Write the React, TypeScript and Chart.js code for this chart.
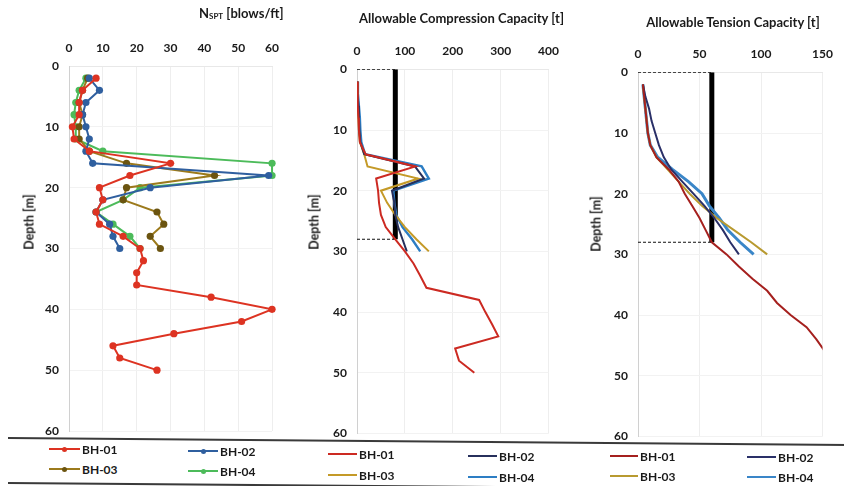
import React, { useEffect, useRef } from "react";
import { Chart, registerables } from "chart.js";

Chart.register(...registerables);

const FONT = "Lato, 'Open Sans', sans-serif";
const TEXT = "#1a1a1a";

// ---------- data ----------
const seriesNames = ["BH-01", "BH-02", "BH-03", "BH-04"];
const depthsLong = [2, 4, 6, 8, 10, 12, 14, 16, 18, 20, 22, 24, 26, 28, 30, 32, 34, 36, 38, 40, 42, 44, 46, 48, 50];
const depthsShort = [2, 4, 6, 8, 10, 12, 14, 16, 18, 20, 22, 24, 26, 28, 30];

// N_SPT [blows/ft]
const nsptBH01 = [8, 4, 3, 3, 1, 1.5, 6, 30, 18, 9, 10, 8, 9, 16, 21, 22, 20, 20, 42, 60, 51, 31, 13, 15, 26];
const nsptBH02 = [6, 9, 5, 4, 5, 6, 5, 7, 59, 24, 10, 8, 12, 13, 15];
const nsptBH03 = [5.5, 4, 3, 4, 3, 3, 6, 17, 43, 17, 16, 26, 28, 24, 27];
const nsptBH04 = [5, 3, 2, 1.5, 2, 2, 10, 60, 60, 21, 16, 8, 13, 18, 21];

// Allowable compression capacity [t]
const compBH01 = [0, 1, 2, 3, 4, 6, 18, 122, 40, 44, 46, 50, 60, 80, 100, 118, 132, 145, 255, 268, 282, 295, 205, 213, 245];
const compBH02 = [0, 1, 3, 4, 5, 7, 15, 121, 140, 73, 78, 80, 86, 95, 104];
const compBH03 = [0, 1, 2, 3, 4, 6, 15, 22, 128, 50, 63, 80, 100, 124, 150];
const compBH04 = [0, 2, 4, 6, 7, 9, 17, 135, 150, 76, 78, 82, 95, 115, 132];

// Allowable tension capacity [t]
const tensBH01 = [4, 5, 6, 7, 8, 10, 15, 25, 33, 38, 44, 50, 55, 60, 72, 82, 93, 105, 113, 124, 137, 145, 152, 163, 175];
const tensBH02 = [4, 6, 9, 11, 14, 17, 21, 27, 36, 45, 54, 62, 69, 75, 82];
const tensBH03 = [4, 5, 6, 7, 8, 10, 15, 24, 33, 42, 52, 64, 78, 92, 105];
const tensBH04 = [4, 5, 6, 7, 8, 10, 16, 28, 41, 52, 58, 66, 73, 83, 94];

// design lines
const designComp = 80;
const designTens = 60;
const designDepth = 28;

// axis ranges
const depthMax = 60;
const depthStep = 10;
const sptMax = 60;
const sptStep = 10;
const compMax = 400;
const compStep = 100;
const tensMax = 150;
const tensStep = 50;

// ---------- components ----------
type Series = {
  label: string;
  color: string;
  pointColor?: string;
  values: number[];
  depths: number[];
  width?: number;
};

type PanelProps = {
  left: number;
  width: number;
  height: number;
  plotLeft: number;
  plotRight: number;
  plotTop: number;
  plotBottom: number;
  xMax: number;
  xStep: number;
  series: Series[];
  markers?: boolean;
  design?: { cap: number; depth: number };
  clip?: any;
};

function PanelChart(p: PanelProps) {
  const ref = useRef<HTMLCanvasElement>(null);
  useEffect(() => {
    const c = ref.current!;
    const datasets: any[] = p.series.map((s) => ({
      label: s.label,
      data: s.values.map((v, i) => ({ x: v, y: s.depths[i] })),
      showLine: true,
      borderColor: s.color,
      backgroundColor: s.pointColor ?? s.color,
      borderWidth: s.width ?? 2,
      pointRadius: p.markers ? 3.6 : 0,
      pointBorderWidth: 0,
      pointBackgroundColor: s.pointColor ?? s.color,
      clip: p.clip,
    }));
    if (p.design) {
      const { cap, depth } = p.design;
      const dash = {
        showLine: true,
        borderColor: "#111",
        borderWidth: 1.2,
        borderDash: [3, 2],
        pointRadius: 0,
      };
      datasets.push(
        { ...dash, label: "top", data: [{ x: 0, y: 0 }, { x: cap, y: 0 }] },
        { ...dash, label: "bottom", data: [{ x: 0, y: depth }, { x: cap, y: depth }] },
        {
          label: "design",
          data: [{ x: cap, y: 0 }, { x: cap, y: depth }],
          showLine: true,
          borderColor: "#000",
          borderWidth: 5,
          borderCapStyle: "butt",
          pointRadius: 0,
        }
      );
    }
    const tickFont = { family: FONT, size: 12, weight: "bold" as const };
    const chart = new Chart(c, {
      type: "scatter",
      data: { datasets },
      options: {
        animation: false,
        responsive: false,
        maintainAspectRatio: false,
        layout: {
          padding: { top: 0, left: 0, right: p.width - p.plotRight, bottom: p.height - p.plotBottom },
        },
        plugins: { legend: { display: false }, tooltip: { enabled: false } },
        scales: {
          x: {
            type: "linear",
            position: "top",
            min: 0,
            max: p.xMax,
            ticks: { stepSize: p.xStep, padding: 11, color: TEXT, font: tickFont },
            grid: { color: "#eeeeee", drawTicks: false },
            border: { display: true, color: "#e8e8e8" },
            afterFit: (s: any) => {
              s.height = p.plotTop;
            },
          },
          y: {
            type: "linear",
            reverse: true,
            min: 0,
            max: depthMax,
            ticks: { stepSize: depthStep, padding: 10, color: TEXT, font: tickFont },
            grid: { color: "#f2f2f2", drawTicks: false },
            border: { display: true, color: "#d0d0d0" },
            afterFit: (s: any) => {
              s.width = p.plotLeft;
            },
          },
        },
      } as any,
    });
    return () => chart.destroy();
  }, []);
  return (
    <canvas
      ref={ref}
      width={p.width}
      height={p.height}
      style={{ position: "absolute", left: p.left, top: 0, width: p.width, height: p.height }}
    />
  );
}

const p1Colors = ["#dd3322", "#2f5f9f", "#9c7a1c", "#4cbb5a"];
const p1PointColors = ["#dd3322", "#2f5f9f", "#6b5410", "#4cbb5a"];
const p2Colors = ["#cc2a22", "#27305c", "#c49a28", "#2d7ec4"];
const p3Colors = ["#a5201e", "#2a3068", "#b89a30", "#3a86c8"];

function Legend({ items, colors, pointColors, markers }: any) {
  return (
    <>
      {items.map((it: any, i: number) => (
        <div
          key={i}
          style={{ position: "absolute", left: it[0], top: it[1] - 9, height: 18, display: "flex", alignItems: "center" }}
        >
          <div style={{ position: "relative", width: it[2], height: 2, background: colors[i] }}>
            {markers && (
              <div
                style={{
                  position: "absolute",
                  left: it[2] / 2 - 2.5,
                  top: -1.5,
                  width: 5,
                  height: 5,
                  borderRadius: 3,
                  background: pointColors[i],
                }}
              />
            )}
          </div>
          <span style={{ marginLeft: 2, font: `bold 12px ${FONT}`, color: TEXT }}>{seriesNames[i]}</span>
        </div>
      ))}
    </>
  );
}

function DepthLabel({ x, y }: { x: number; y: number }) {
  return (
    <div
      style={{
        position: "absolute",
        left: x,
        top: y,
        transform: "translate(-50%, -50%) rotate(-90deg)",
        whiteSpace: "nowrap",
        font: `bold 12.5px ${FONT}`,
        color: TEXT,
      }}
    >
      Depth [m]
    </div>
  );
}

export default function App() {
  const mk = (vals: number[][], colors: string[], pcs?: string[], widths?: number[]): Series[] =>
    vals.map((v, i) => ({
      label: seriesNames[i],
      color: colors[i],
      pointColor: pcs ? pcs[i] : undefined,
      values: v,
      depths: v.length === depthsLong.length ? depthsLong : depthsShort,
      width: widths ? widths[i] : 2,
    }));

  const spt = mk([nsptBH01, nsptBH02, nsptBH03, nsptBH04], p1Colors, p1PointColors);
  const comp = mk([compBH01, compBH02, compBH03, compBH04], p2Colors, undefined, [2, 2, 2, 2.4]);
  const tens = mk([tensBH01, tensBH02, tensBH03, tensBH04], p3Colors, undefined, [2, 2, 2, 3]);

  return (
    <div
      style={{
        position: "absolute",
        left: 0,
        top: 0,
        width: 844,
        height: 486,
        overflow: "hidden",
        background: "#fff",
      }}
    >
      <PanelChart
        left={0}
        width={290}
        height={460}
        plotLeft={69}
        plotRight={274}
        plotTop={66}
        plotBottom={431}
        xMax={sptMax}
        xStep={sptStep}
        series={spt}
        markers
        clip={false}
      />
      <PanelChart
        left={290}
        width={280}
        height={460}
        plotLeft={67}
        plotRight={263}
        plotTop={69.3}
        plotBottom={433.5}
        xMax={compMax}
        xStep={compStep}
        series={comp}
        design={{ cap: designComp, depth: designDepth }}
      />
      <PanelChart
        left={570}
        width={274}
        height={460}
        plotLeft={68}
        plotRight={261.5}
        plotTop={72.3}
        plotBottom={436.5}
        xMax={tensMax}
        xStep={tensStep}
        series={tens}
        design={{ cap: designTens, depth: designDepth }}
      />

      {/* axis titles */}
      <div style={{ position: "absolute", left: 199, top: 5, font: `bold 13px ${FONT}`, color: TEXT, whiteSpace: "nowrap" }}>
        N<sub style={{ fontSize: 8, verticalAlign: "-1px" }}>SPT</sub> [blows/ft]
      </div>
      <div
        style={{
          position: "absolute",
          left: 461.5,
          top: 18.3,
          transform: "translate(-50%, -50%)",
          font: `bold 13px ${FONT}`,
          color: TEXT,
          whiteSpace: "nowrap",
        }}
      >
        Allowable Compression Capacity [t]
      </div>
      <div
        style={{
          position: "absolute",
          left: 733,
          top: 21.7,
          transform: "translate(-50%, -50%)",
          font: `bold 13px ${FONT}`,
          color: TEXT,
          whiteSpace: "nowrap",
        }}
      >
        Allowable Tension Capacity [t]
      </div>

      <DepthLabel x={29} y={222} />
      <DepthLabel x={314} y={222} />
      <DepthLabel x={596} y={224} />

      {/* legend frame */}
      <div
        style={{
          position: "absolute",
          left: 8,
          top: 437,
          width: 840,
          height: 2,
          background: "#3a3a3a",
          transformOrigin: "0 0",
          transform: "rotate(0.47deg)",
        }}
      />
      <div
        style={{
          position: "absolute",
          left: 8,
          top: 482,
          width: 840,
          height: 2,
          background: "#3a3a3a",
          transformOrigin: "0 0",
          transform: "rotate(0.47deg)",
        }}
      />

      <Legend
        items={[
          [49, 449, 31],
          [188, 451, 30],
          [49, 469, 31],
          [188, 471, 30],
        ]}
        colors={p1Colors}
        pointColors={p1PointColors}
        markers
      />
      <Legend
        items={[
          [328, 454, 29],
          [468, 456, 29],
          [328, 475, 29],
          [468, 477, 29],
        ]}
        colors={p2Colors}
      />
      <Legend
        items={[
          [610, 456, 28],
          [747, 457, 29],
          [610, 476, 28],
          [747, 477, 29],
        ]}
        colors={p3Colors}
      />
    </div>
  );
}
